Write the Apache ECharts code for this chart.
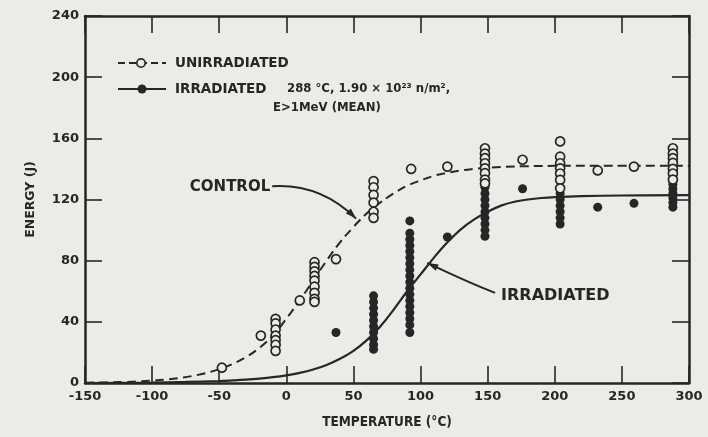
<!DOCTYPE html>
<html><head><meta charset="utf-8">
<script src="https://cdn.jsdelivr.net/npm/echarts@6/dist/echarts.min.js"></script>
<style>html,body{margin:0;padding:0;background:#ebebe8}#c{width:708px;height:437px}</style>
</head><body><div id="c"></div>
<script>
// ---- data ----
const xTicks = [-150, -100, -50, 0, 50, 100, 150, 200, 250, 300];
const yTicks = [0, 40, 80, 120, 160, 200, 240];

const unirrTemps = [-48, -19, -8, 10, 21, 37, 65, 93, 120, 148, 176, 204, 232, 259, 288];
const unirrEnergies = [
  [10], [31], [42, 39, 35, 31, 28, 25, 21], [54],
  [79, 76, 73, 70, 67, 63, 59, 55, 53], [81],
  [132, 128, 123, 118, 112, 108], [140], [141.5],
  [153.5, 150, 147, 143.7, 140.4, 137.2, 133, 130.5], [146],
  [158, 148, 143.7, 140.4, 137, 132.8, 127.3], [139], [141.5],
  [153.5, 150, 147, 144, 140, 137, 133]
];
const irrTemps = [37, 65, 92, 120, 148, 176, 204, 232, 259, 288];
const irrEnergies = [
  [33], [57, 53, 49, 45, 41, 37, 33, 29, 25, 22],
  [106, 98, 94, 90, 86, 82, 78, 74, 70, 66, 62, 58, 54, 50, 46, 42, 38, 33],
  [95.5], [128, 124, 120, 116, 112, 108, 104, 100, 96], [127],
  [124, 120, 116, 112, 108, 104], [115], [117.5],
  [130, 127, 124, 121, 118, 115]
];

const controlCurveT = [-150, -140, -130, -120, -110, -100, -90, -80, -70, -60, -50, -40, -30, -20, -10, 0, 10, 20, 30, 40, 50, 60, 70, 80, 90, 100, 110, 120, 130, 140, 150, 160, 180, 200, 250, 300];
const controlCurveE = [0.2, 0.3, 0.5, 0.7, 1.0, 1.5, 2.2, 3.2, 4.6, 6.5, 9, 12.5, 17, 23, 31, 42, 54, 67, 80, 92, 102, 111, 118, 124, 129, 132.5, 135.5, 137.5, 139, 140, 140.8, 141.3, 141.8, 142, 142, 142];
const irrCurveT = [-150, -100, -75, -50, -40, -30, -20, -10, 0, 10, 20, 30, 40, 50, 60, 70, 80, 90, 100, 110, 120, 130, 140, 150, 160, 170, 180, 190, 200, 220, 250, 300];
const irrCurveE = [0, 0.3, 0.7, 1.3, 1.7, 2.2, 2.9, 3.8, 5, 6.6, 8.8, 11.8, 15.8, 21, 28, 37, 48, 60, 71, 82, 92, 100.5, 107, 112, 116, 118.5, 120, 121, 121.6, 122.2, 122.6, 122.8];

const legendText1 = 'UNIRRADIATED';
const legendText2a = 'IRRADIATED';
const legendText2b = '288 °C, 1.90 × 10²³ n/m²,';
const legendText3 = 'E>1MeV (MEAN)';
const xTitle = 'TEMPERATURE (°C)';
const yTitle = 'ENERGY (J)';

// ---- build ----
function pairs(ts, es) { const out = []; ts.forEach((t, i) => es[i].forEach(e => out.push([t, e]))); return out; }
function zip(a, b) { return a.map((v, i) => [v, b[i]]); }

const INK = '#262626';
const BG = '#ebebe8';
const tickFont = { fontFamily: 'DejaVu Sans', fontWeight: 'bold', fontSize: 13, color: INK };

const chart = echarts.init(document.getElementById('c'), null, { renderer: 'canvas' });
const axisCommon = {
  axisLine: { onZero: false, lineStyle: { color: INK, width: 2.5 } },
  axisTick: { inside: true, length: 17, lineStyle: { color: INK, width: 1.6 } },
  splitLine: { show: false }
};
chart.setOption({
  backgroundColor: BG,
  animation: false,
  grid: { left: 85, right: 19, top: 16, bottom: 54 },
  xAxis: [
    Object.assign({ type: 'value', min: xTicks[0], max: xTicks[xTicks.length - 1], interval: 50, position: 'bottom',
      axisLabel: Object.assign({ margin: 7 }, tickFont),
      name: xTitle, nameLocation: 'middle', nameGap: 32,
      nameTextStyle: { fontFamily: 'DejaVu Sans Condensed', fontWeight: 'bold', fontSize: 13.5, color: INK } }, axisCommon),
    Object.assign({ type: 'value', min: xTicks[0], max: xTicks[xTicks.length - 1], interval: 50, position: 'top',
      axisLabel: { show: false } }, axisCommon)
  ],
  yAxis: [
    Object.assign({ type: 'value', min: yTicks[0], max: yTicks[yTicks.length - 1], interval: 40, position: 'left',
      axisLabel: Object.assign({ margin: 6 }, tickFont),
      name: yTitle, nameLocation: 'middle', nameGap: 48,
      nameTextStyle: { fontFamily: 'DejaVu Sans', fontWeight: 'bold', fontSize: 12.5, color: INK } }, axisCommon),
    Object.assign({ type: 'value', min: yTicks[0], max: yTicks[yTicks.length - 1], interval: 40, position: 'right',
      axisLabel: { show: false } }, axisCommon)
  ],
  series: [
    { type: 'line', name: 'control curve', data: zip(controlCurveT, controlCurveE), smooth: 0.4,
      showSymbol: false, lineStyle: { color: INK, width: 2, type: [9, 5] }, z: 2 },
    { type: 'line', name: 'irradiated curve', data: zip(irrCurveT, irrCurveE), smooth: 0.4,
      showSymbol: false, lineStyle: { color: INK, width: 2.2 }, z: 2 },
    { type: 'scatter', name: 'UNIRRADIATED', data: pairs(unirrTemps, unirrEnergies), symbol: 'circle', symbolSize: 9,
      itemStyle: { color: BG, borderColor: INK, borderWidth: 1.7, opacity: 1 }, z: 4 },
    { type: 'scatter', name: 'IRRADIATED', data: pairs(irrTemps, irrEnergies), symbol: 'circle', symbolSize: 9,
      itemStyle: { color: INK, opacity: 1 }, z: 3 }
  ]
});

// ---- annotations (anchored in data coordinates) ----
function px(t, e) { return chart.convertToPixel({ xAxisIndex: 0, yAxisIndex: 0 }, [t, e]); }
function arrow(from, ctrl, to) {
  const ang = Math.atan2(to[1] - ctrl[1], to[0] - ctrl[0]);
  const L = 11, W = 3.5;
  const bx = to[0] - L * Math.cos(ang), by = to[1] - L * Math.sin(ang);
  const nx = -Math.sin(ang), ny = Math.cos(ang);
  return [
    { type: 'bezierCurve', shape: { x1: from[0], y1: from[1], x2: to[0], y2: to[1], cpx1: ctrl[0], cpy1: ctrl[1] },
      style: { stroke: INK, lineWidth: 2, fill: null }, z: 10 },
    { type: 'polygon', shape: { points: [[to[0], to[1]], [bx + nx * W, by + ny * W], [bx - nx * W, by - ny * W]] },
      style: { fill: INK }, z: 10 }
  ];
}
const ctlLabel = px(-12, 128);
const ctlTip = px(52, 107.5);
const irrLabel = px(160, 57);
const irrTip = px(105, 78.5);
const g = [];
g.push({ type: 'text', x: ctlLabel[0], y: ctlLabel[1], style: { text: 'CONTROL', font: 'bold 15px "DejaVu Sans"', fill: INK, align: 'right', verticalAlign: 'middle' }, z: 10 });
g.push(...arrow([ctlLabel[0] + 2, ctlLabel[1] - 1], [ctlLabel[0] + 50, ctlLabel[1] - 4], ctlTip));
g.push({ type: 'text', x: irrLabel[0], y: irrLabel[1], style: { text: 'IRRADIATED', font: 'bold 16px "DejaVu Sans"', fill: INK, align: 'left', verticalAlign: 'middle' }, z: 10 });
g.push(...arrow([irrLabel[0] - 6, irrLabel[1] - 3], [irrLabel[0] - 30, irrLabel[1] - 12], irrTip));

// legend
const legFont = 'bold 13.5px "DejaVu Sans"';
g.push({ type: 'line', shape: { x1: 118, y1: 63, x2: 166, y2: 63 }, style: { stroke: INK, lineWidth: 2, lineDash: [7, 4] }, z: 10 });
g.push({ type: 'circle', shape: { cx: 141, cy: 63, r: 4.2 }, style: { fill: BG, stroke: INK, lineWidth: 1.7 }, z: 11 });
g.push({ type: 'text', x: 175, y: 63, style: { text: legendText1, font: legFont, fill: INK, verticalAlign: 'middle' }, z: 10 });
g.push({ type: 'line', shape: { x1: 118, y1: 89, x2: 166, y2: 89 }, style: { stroke: INK, lineWidth: 2.2 }, z: 10 });
g.push({ type: 'circle', shape: { cx: 142, cy: 89, r: 4.5 }, style: { fill: INK }, z: 11 });
g.push({ type: 'text', x: 175, y: 89, style: { text: legendText2a, font: legFont, fill: INK, verticalAlign: 'middle' }, z: 10 });
g.push({ type: 'text', x: 287, y: 89, style: { text: legendText2b, font: 'bold 13px "DejaVu Sans Condensed"', fill: INK, verticalAlign: 'middle' }, z: 10 });
g.push({ type: 'text', x: 273, y: 108, style: { text: legendText3, font: 'bold 13px "DejaVu Sans Condensed"', fill: INK, verticalAlign: 'middle' }, z: 10 });
chart.setOption({ graphic: g });
</script>
</body></html>
